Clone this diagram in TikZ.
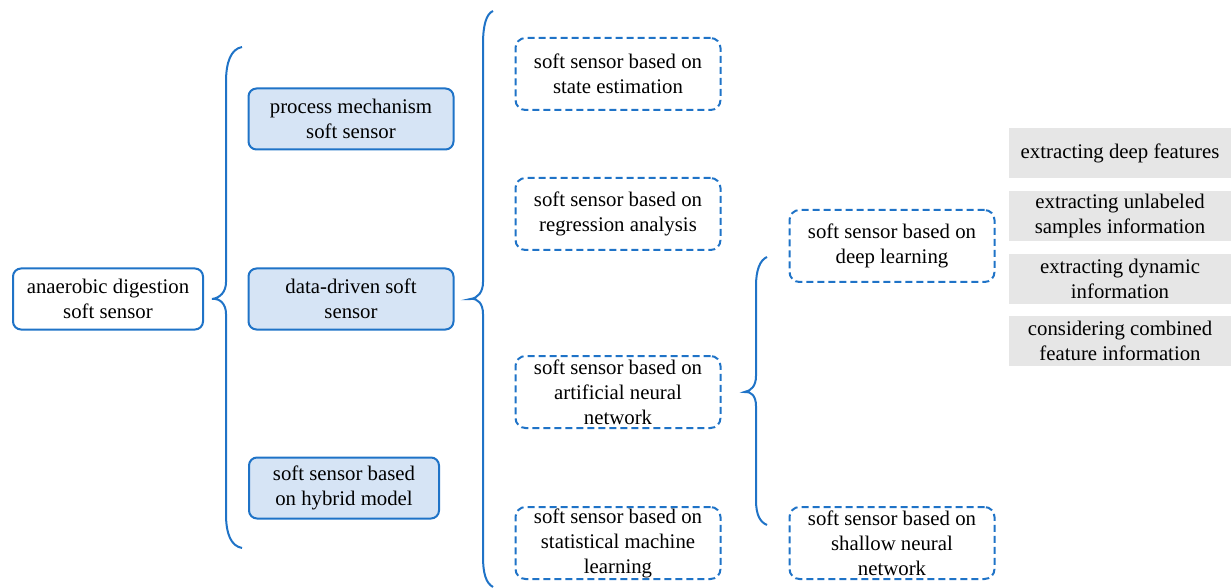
\documentclass[tikz,border=0pt]{standalone}
\usepackage{fontspec}
\setmainfont{Liberation Serif}
\usetikzlibrary{positioning}

\definecolor{lineblue}{RGB}{31,115,199}
\definecolor{boxblue}{RGB}{214,228,245}
\definecolor{taggray}{RGB}{230,230,230}

\begin{document}
\begin{tikzpicture}[
    x=0.5pt, y=-0.5pt,
    every node/.style={font=\rmfamily\fontsize{10.4}{12.5}\selectfont, align=center, inner sep=0pt},
    rootbox/.style={
        rectangle,
        rounded corners=4pt,
        draw=lineblue,
        line width=1pt,
        fill=white,
        minimum width=95pt,
        minimum height=30.5pt
    },
    mainbox/.style={rootbox, fill=boxblue, minimum width=102.5pt},
    subbox/.style={
        rectangle,
        rounded corners=5pt,
        draw=lineblue,
        line width=1pt,
        dash pattern=on 3.5pt off 2pt,
        minimum width=102.5pt,
        minimum height=36pt
    },
    tagbox/.style={
        rectangle,
        fill=taggray,
        minimum width=111pt,
        minimum height=25pt
    },
    curly/.style={draw=lineblue, line width=1pt}
]
\useasboundingbox (0,0) rectangle (1231,588);

% ==================== root and first level ====================
\node[rootbox] (root) at (108,299) {anaerobic digestion\\soft sensor};

\node[mainbox] (mech)   at (351,119) {process mechanism\\soft sensor};
\node[mainbox] (data)   at (351,299) {data-driven soft\\sensor};
\node[mainbox, minimum width=95pt] (hybrid) at (344,488) {soft sensor based\\on hybrid model};

\coordinate (tipa) at ([xshift=4pt]root.east);
\draw[curly] (242,47) .. controls (231,49) and (226,62) .. (226,82) -- (226,282)
    .. controls (226,292) and (220,298) .. (tipa)
    .. controls (220,298) and (226,304) .. (226,314) -- (226,514)
    .. controls (226,534) and (231,546) .. (242,548);

% ==================== second level (data-driven) ====================
\node[subbox] (state) at (618,74)  {soft sensor based on\\state estimation};
\node[subbox] (regr)  at (618,214) {soft sensor based on\\regression analysis};
\node[subbox] (ann)   at (618,392) {soft sensor based on\\artificial neural\\network};
\node[subbox] (sml)   at (618,543) {soft sensor based on\\statistical machine\\learning};

\coordinate (tipb) at ([xshift=8pt]data.east);
\draw[curly] (493,11) .. controls (486,14) and (483,26) .. (483,44) -- (483,282)
    .. controls (483,292) and (478,298) .. (tipb)
    .. controls (478,298) and (483,304) .. (483,314) -- (483,556)
    .. controls (483,574) and (486,583) .. (493,587);

% ==================== third level (neural network) ====================
\node[subbox] (deep)    at (892,246) {soft sensor based on\\deep learning};
\node[subbox] (shallow) at (892,543) {soft sensor based on\\shallow neural\\network};

\coordinate (tipc) at ([xshift=11.5pt]ann.east);
\draw[curly] (767,257) .. controls (760,260) and (756,270) .. (756,286) -- (756,376)
    .. controls (756,386) and (751,391) .. (tipc)
    .. controls (751,391) and (756,396) .. (756,406) -- (756,500)
    .. controls (756,515) and (760,522) .. (767,525);

% ==================== deep learning aspects ====================
\node[tagbox] (feat)  at (1120,153) {extracting deep features};
\node[tagbox] (unlab) at (1120,216) {extracting unlabeled\\samples information};
\node[tagbox] (dyn)   at (1120,279) {extracting dynamic\\information};
\node[tagbox] (comb)  at (1120,341) {considering combined\\feature information};

\end{tikzpicture}
\end{document}
